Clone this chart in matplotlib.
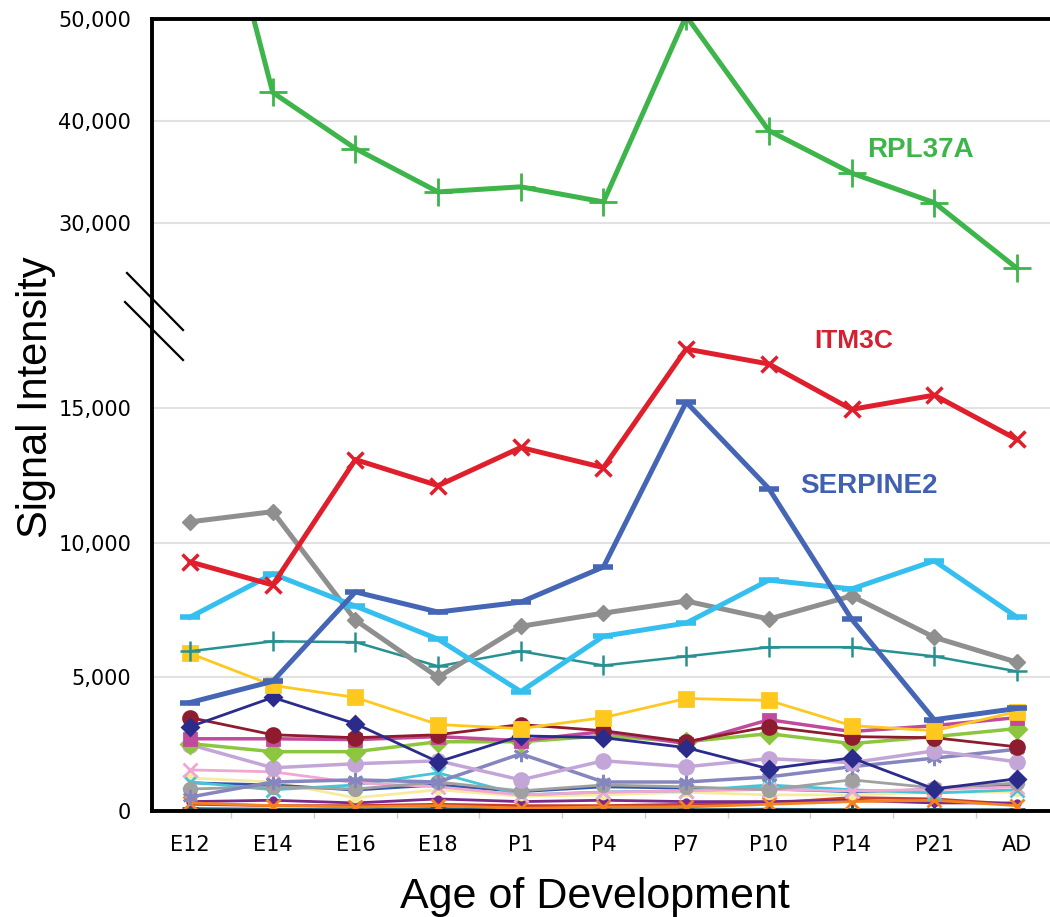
import matplotlib
matplotlib.use('Agg')
import matplotlib.pyplot as plt
import numpy as np
from matplotlib.lines import Line2D
from matplotlib.ticker import FixedLocator, FuncFormatter

stages = ['E12', 'E14', 'E16', 'E18', 'P1', 'P4', 'P7', 'P10', 'P14', 'P21', 'AD']

# main labelled genes
rpl37a = [74000, 42800, 37300, 33050, 33550, 32070, 50300, 39060, 34900, 32000, 25570]
itm3c = [9280, 8420, 13090, 12120, 13540, 12790, 17210, 16650, 14960, 15490, 13840]
serpine2 = [4040, 4830, 8160, 7410, 7780, 9090, 15230, 12010, 7150, 3400, 3820]

# other genes
g_lightblue = [7220, 8830, 7630, 6400, 4450, 6510, 7000, 8600, 8270, 9320, 7220]
g_gray = [10770, 11150, 7110, 4980, 6880, 7370, 7820, 7150, 8010, 6470, 5540]
g_teal = [5950, 6320, 6290, 5390, 5950, 5420, 5760, 6100, 6100, 5760, 5200]
g_yellow = [5870, 4680, 4230, 3220, 3070, 3480, 4190, 4120, 3180, 2990, 3700]
g_navy = [3140, 4230, 3250, 1830, 2800, 2730, 2360, 1570, 1980, 820, 1200]
g_maroon = [3480, 2840, 2730, 2840, 3220, 2990, 2580, 3140, 2770, 2730, 2390]
g_magenta = [2690, 2690, 2660, 2770, 2620, 2960, 2510, 3400, 2960, 3180, 3480]
g_lime = [2510, 2210, 2210, 2580, 2580, 2800, 2580, 2880, 2510, 2770, 3070]
g_lavender = [2470, 1610, 1760, 1870, 1160, 1870, 1650, 1950, 1800, 2240, 1830]
g_slate = [520, 1080, 1160, 1080, 2130, 1080, 1080, 1270, 1650, 1970, 2300]
g_silver = [820, 900, 820, 1080, 750, 970, 900, 790, 1160, 860, 1040]
g_pink = [1530, 1460, 1050, 900, 600, 700, 750, 800, 750, 800, 900]
g_cyan = [1080, 790, 970, 1420, 600, 710, 750, 970, 790, 670, 790]
g_blue = [1050, 970, 780, 970, 720, 900, 850, 820, 720, 800, 1000]
g_paleyel = [1230, 1080, 490, 790, 550, 600, 700, 600, 600, 700, 700]
g_purple = [350, 400, 300, 450, 350, 400, 350, 350, 400, 300, 300]
g_brown = [250, 200, 200, 250, 200, 200, 250, 300, 500, 450, 250]
g_orange = [300, 200, 150, 200, 100, 150, 150, 250, 350, 400, 200]
g_darkteal = [100, 80, 60, 100, 60, 60, 60, 80, 60, 60, 60]
g_dark = [50, 50, 40, 50, 40, 40, 40, 40, 40, 40, 40]

# broken axis: 0..20000 normal, 25000..50000 compressed
A, B, r = 20000, 25000, 0.38


def fwd(v):
    v = np.asarray(v, dtype=float)
    return np.where(v <= A, v, A + np.clip(v - B, 0, None) * r)


def inv(f):
    f = np.asarray(f, dtype=float)
    return np.where(f <= A, f, B + (f - A) / r)


fig = plt.figure(figsize=(10.5, 9.17), dpi=100)
ax = fig.add_axes([152 / 1050, 1 - 811 / 917, 1 - 152 / 1050, (811 - 19) / 917])
ax.set_yscale('function', functions=(fwd, inv))
ax.set_ylim(0, 50000)
ax.set_xlim(-0.46, 10.4)

x = np.arange(len(stages))

small = [
    (g_dark, '#1a1a1a', '+', 10, 1.5),
    (g_darkteal, '#1f5a70', '+', 12, 1.5),
    (g_brown, '#c8402a', None, 0, 2),
    (g_purple, '#7a2a8a', 'o', 4, 2),
    (g_orange, '#f58220', 'x', 10, 2),
    (g_paleyel, '#f5eca0', 'o', 5, 2),
    (g_blue, '#3355aa', None, 0, 2),
    (g_cyan, '#45c5d5', 'x', 10, 2),
    (g_pink, '#f2a6d2', 'x', 10, 2),
    (g_silver, '#a0a0a0', 'o', 9, 2),
    (g_slate, '#8585c0', (6, 2, 0), 11, 2.5),
    (g_lavender, '#c3a5d8', 'o', 10, 2.5),
    (g_lime, '#8cc63f', 'D', 9, 2.5),
    (g_magenta, '#c24a9c', 's', 9, 2.5),
    (g_maroon, '#8e1b2e', 'o', 10, 2),
    (g_navy, '#2b2b8c', 'D', 8, 2),
    (g_yellow, '#ffc81e', 's', 10, 2),
]
for vals, col, mk, ms, lw in small:
    ax.plot(x, vals, color=col, lw=lw, marker=mk, ms=ms, mew=2)

ax.plot(x, g_teal, color='#279191', lw=1.8, marker='+', ms=14, mew=1.8)
ax.plot(x, g_gray, color='#8f8f8f', lw=3.6, marker='D', ms=8)
ax.plot(x, g_lightblue, color='#35bfee', lw=3.6, marker='_', ms=14, mew=4)
ax.plot(x, serpine2, color='#4565b5', lw=3.6, marker='_', ms=14, mew=4)
ax.plot(x, itm3c, color='#e01f2d', lw=3.6, marker='x', ms=12, mew=2.5)
ax.plot(x, rpl37a, color='#3db54a', lw=3.6, marker='+', ms=20, mew=2)

ax.text(8.83, 37160, 'RPL37A', color='#3db54a', fontsize=20, fontweight='bold',
        family='Liberation Sans', ha='center', va='center')
ax.text(8.03, 17500, 'ITM3C', color='#d42030', fontsize=19, fontweight='bold',
        family='Liberation Sans', ha='center', va='center')
ax.text(8.21, 12100, 'SERPINE2', color='#4060b0', fontsize=20, fontweight='bold',
        family='Liberation Sans', ha='center', va='center')

yt = [0, 5000, 10000, 15000, 30000, 40000, 50000]
ax.yaxis.set_major_locator(FixedLocator(yt))
ax.yaxis.set_minor_locator(FixedLocator([]))
ax.yaxis.set_major_formatter(FuncFormatter(lambda v, p: f'{v:,.0f}'))
for g in [5000, 10000, 15000, 30000, 40000]:
    ax.axhline(g, color='#e2e2e2', lw=1.5, zorder=0)
ax.tick_params(axis='y', length=0, pad=15, labelsize=15)

ax.set_xticks(x)
ax.set_xticklabels(stages)
ax.set_xticks(np.arange(0.5, 10, 1), minor=True)
ax.tick_params(axis='x', which='major', length=0, pad=17, labelsize=15)
ax.tick_params(axis='x', which='minor', length=5, width=1, color='#cccccc', direction='out')

for s in ['left', 'bottom', 'top']:
    ax.spines[s].set_linewidth(2.8)
    ax.spines[s].set_color('black')
ax.spines['right'].set_visible(False)

# break marks on the y axis
for (x0, y0, x1, y1) in [(127, 273, 183, 330), (125, 302, 183, 360)]:
    fig.add_artist(Line2D([x0 / 1050, x1 / 1050], [1 - y0 / 917, 1 - y1 / 917],
                          color='black', lw=1.6, transform=fig.transFigure))

fig.text(0.034, 1 - 397 / 917, 'Signal Intensity', rotation=90, fontsize=30,
         family='Liberation Sans', ha='center', va='center')
fig.text(595 / 1050, 1 - 908 / 917, 'Age of Development', fontsize=31,
         family='Liberation Sans', ha='center', va='baseline')

fig.savefig('out.png', dpi=100)
